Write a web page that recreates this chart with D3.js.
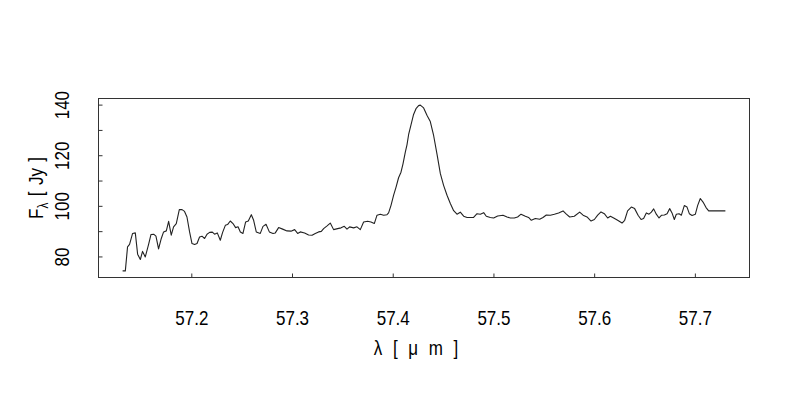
<!DOCTYPE html>
<html>
<head>
<meta charset="utf-8">
<script src="https://cdn.jsdelivr.net/npm/d3@7"></script>
<style>
  html, body { margin: 0; padding: 0; background: #fff; }
  svg { display: block; }
  text { font-family: "Liberation Sans", Arial, Helvetica, sans-serif; fill: #000; }
</style>
</head>
<body>
<svg id="chart" width="800" height="400"></svg>
<script>
// Wavelength (micron)
const wavelength = [
57.1318,57.1345,57.1367,57.1387,57.1417,57.1444,57.1467,57.1494,57.1516,57.1543,
57.1576,57.1600,57.1626,57.1649,57.1675,57.1702,57.1725,57.1752,57.1775,57.1801,
57.1824,57.1851,57.1881,57.1908,57.1933,57.1957,57.1983,57.2007,57.2033,57.2057,
57.2082,57.2106,57.2132,57.2156,57.2182,57.2209,57.2231,57.2258,57.2288,57.2311,
57.2338,57.2360,57.2387,57.2414,57.2440,57.2464,57.2487,57.2513,57.2539,57.2566,
57.2596,57.2619,57.2645,57.2685,57.2712,57.2742,57.2775,57.2811,57.2834,57.2867,
57.2907,57.2950,57.2990,57.3026,57.3056,57.3082,57.3125,57.3165,57.3199,57.3231,
57.3264,57.3291,57.3314,57.3348,57.3380,57.3413,57.3453,57.3487,57.3519,57.3546,
57.3572,57.3612,57.3645,57.3678,57.3711,57.3751,57.3784,57.3817,57.3844,57.3877,
57.3910,57.3943,57.3959,57.3983,57.4009,57.4033,57.4058,57.4082,57.4102,57.4125,
57.4142,57.4158,57.4182,57.4207,57.4231,57.4257,57.4274,57.4307,57.4341,57.4373,
57.4406,57.4440,57.4473,57.4505,57.4539,57.4572,57.4605,57.4638,57.4671,57.4704,
57.4738,57.4803,57.4837,57.4870,57.4903,57.4929,57.4969,57.5002,57.5042,57.5095,
57.5135,57.5168,57.5207,57.5240,57.5274,57.5317,57.5349,57.5376,57.5416,57.5459,
57.5492,57.5525,57.5565,57.5605,57.5647,57.5691,57.5724,57.5757,57.5803,57.5856,
57.5890,57.5929,57.5969,57.6002,57.6035,57.6068,57.6101,57.6134,57.6161,57.6194,
57.6233,57.6277,57.6303,57.6332,57.6369,57.6402,57.6436,57.6466,57.6491,57.6518,
57.6545,57.6568,57.6591,57.6617,57.6644,57.6670,57.6697,57.6724,57.6750,57.6773,
57.6796,57.6816,57.6843,57.6866,57.6895,57.6922,57.6945,57.6972,57.7005,57.7028,
57.7054,57.7081,57.7111,57.7137,57.7303
];
// Flux density (Jy)
const flux = [
74.3,74.3,83.8,84.8,89.1,89.3,80.9,78.8,82.0,79.8,
84.8,88.7,88.8,88.0,83.0,87.1,89.7,90.1,93.9,88.4,
91.7,93.0,98.5,98.5,97.8,95.6,89.7,85.1,84.7,85.1,
87.7,88.0,87.1,88.8,89.5,89.6,88.8,89.3,86.4,89.5,
92.3,92.6,94.0,93.0,91.4,91.7,89.7,89.1,93.6,94.0,
96.5,94.3,89.7,89.1,91.9,92.7,89.7,89.1,89.3,91.4,
90.8,90.1,90.0,90.6,89.1,89.7,89.3,88.5,88.4,89.1,
89.7,89.9,91.0,92.1,93.2,90.6,91.0,91.3,91.9,90.8,
91.7,91.3,91.7,90.6,93.6,93.9,93.6,93.0,96.3,96.7,
96.3,96.5,97.2,100.2,104.2,107.4,111.1,113.3,116.6,121.2,
124.2,128.2,132.1,136.1,138.4,139.6,139.8,138.7,135.7,133.3,
127.8,120.3,112.7,108.1,104.2,100.9,98.1,96.7,97.5,95.9,
95.4,95.4,96.9,96.7,97.3,95.9,95.4,95.2,96.0,96.3,
95.6,95.2,95.2,95.6,96.7,95.9,95.4,94.3,95.0,94.7,
95.4,96.4,96.3,96.7,97.2,98.0,96.7,95.6,95.9,97.5,
96.3,95.6,94.0,94.6,96.3,97.6,96.9,95.2,95.9,95.2,
94.3,93.2,94.3,98.0,99.5,98.9,96.3,94.6,95.0,97.2,
96.7,97.5,98.8,96.7,95.2,96.3,96.4,96.9,98.9,97.2,
94.6,96.7,96.9,96.3,100.1,99.5,96.9,96.2,96.7,100.2,
102.9,101.5,99.3,98.0,98.0
];
const xTickValues = [57.2, 57.3, 57.4, 57.5, 57.6, 57.7];
const yTickValues = [80, 90, 100, 110, 120, 130, 140];
const yLabelValues = [80, 100, 120, 140];

(function () {
const svg = d3.select("#chart");
const pLeft = 98.5, pRight = 749.5, pTop = 98.5, pBottom = 277.5;
const FONT = "'Liberation Sans', Arial, sans-serif";
const SQ = "scale(0.85,1)";

function padded(ext) {
  const r = ext[1] - ext[0];
  return [ext[0] - 0.04 * r, ext[1] + 0.04 * r];
}
const x = d3.scaleLinear().domain(padded(d3.extent(wavelength))).range([pLeft, pRight]);
const y = d3.scaleLinear().domain(padded(d3.extent(flux))).range([pBottom, pTop]);

const data = wavelength.map((w, i) => [w, flux[i]]);

// Spectrum line
svg.append("path")
  .datum(data)
  .attr("fill", "none")
  .attr("stroke", "#222")
  .attr("stroke-width", 1.1)
  .attr("stroke-linejoin", "round")
  .attr("d", d3.line().x(d => x(d[0])).y(d => y(d[1])));

// Frame
svg.append("rect")
  .attr("x", pLeft).attr("y", pTop)
  .attr("width", pRight - pLeft).attr("height", pBottom - pTop)
  .attr("fill", "none").attr("stroke", "#333").attr("stroke-width", 1);

// X axis (ticks inward)
const xAxis = d3.axisBottom(x).tickValues(xTickValues).tickSize(-4).tickFormat(d3.format(".1f"));
const gx = svg.append("g").attr("transform", `translate(0,${pBottom})`).call(xAxis);
gx.select(".domain").remove();
gx.selectAll(".tick line").attr("stroke", "#333");
gx.selectAll(".tick text")
  .attr("y", 0).attr("dy", 0)
  .attr("transform", `translate(0,47) ${SQ}`)
  .style("font-size", "20px")
  .style("font-family", FONT)
  .attr("fill", "#000");

// Y axis (ticks inward)
const yAxis = d3.axisLeft(y).tickValues(yTickValues).tickSize(-4)
  .tickFormat(d => yLabelValues.includes(d) ? d3.format("d")(d) : "");
const gy = svg.append("g").attr("transform", `translate(${pLeft},0)`).call(yAxis);
gy.select(".domain").remove();
gy.selectAll(".tick line").attr("stroke", "#333");
gy.selectAll(".tick text")
  .attr("x", 0).attr("dy", 0).attr("y", 0)
  .attr("text-anchor", "middle")
  .attr("transform", `translate(-30,0) rotate(-90) ${SQ}`)
  .style("font-size", "20px")
  .style("font-family", FONT)
  .attr("fill", "#000");

// X axis title
svg.append("text")
  .attr("transform", `translate(${(pLeft + pRight) / 2 - 8},${pBottom + 77}) ${SQ}`)
  .attr("text-anchor", "middle")
  .style("font-size", "20px")
  .style("word-spacing", "7px")
  .style("font-family", FONT)
  .text("λ [ μ m ]");

// Y axis title
const yt = svg.append("text")
  .attr("transform", `translate(${pLeft - 56},${(pTop + pBottom) / 2}) rotate(-90) ${SQ}`)
  .attr("text-anchor", "middle")
  .style("font-size", "20px")
  .style("font-family", FONT);
yt.append("tspan").text("F");
yt.append("tspan").attr("dy", 5).style("font-size", "14px").text("λ");
yt.append("tspan").attr("dy", -5).style("word-spacing", "2px").text(" [ Jy ]");
})();
</script>
</body>
</html>
